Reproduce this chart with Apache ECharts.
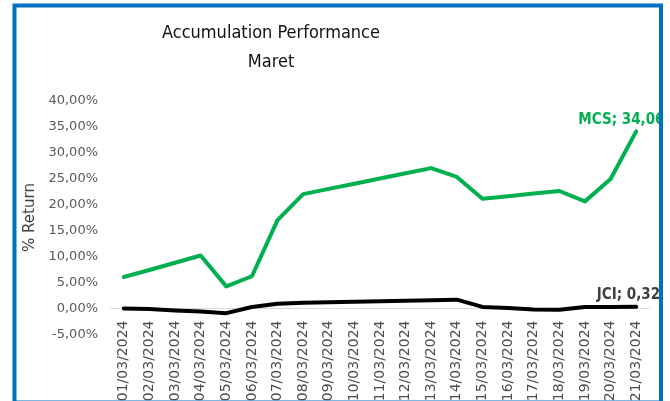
<!DOCTYPE html>
<html><head><meta charset="utf-8">
<script src="https://cdn.jsdelivr.net/npm/echarts@6/dist/echarts.min.js"></script>
<style>html,body{margin:0;padding:0;background:#fff}#c{width:670px;height:401px}</style>
</head><body><div id="c"></div>
<script>
const categories = ['01/03/2024','02/03/2024','03/03/2024','04/03/2024','05/03/2024','06/03/2024','07/03/2024','08/03/2024','09/03/2024','10/03/2024','11/03/2024','12/03/2024','13/03/2024','14/03/2024','15/03/2024','16/03/2024','17/03/2024','18/03/2024','19/03/2024','20/03/2024','21/03/2024'];
const mcs = [6.05, 7.4, 8.8, 10.2, 4.25, 6.2, 17.0, 22.0, 23.0, 24.0, 25.0, 26.0, 27.0, 25.3, 21.1, 21.6, 22.1, 22.6, 20.6, 24.9, 34.06];
const jci = [0.0, -0.1, -0.4, -0.6, -0.9, 0.3, 0.9, 1.1, 1.2, 1.3, 1.4, 1.5, 1.6, 1.7, 0.3, 0.1, -0.2, -0.25, 0.3, 0.3, 0.32];
const yTicks = { min: -5, max: 40, interval: 5 };
const seriesNames = ['MCS', 'JCI'];

const fmt = v => v.toFixed(2).replace('.', ',') + '%';
const FONT = '"DejaVu Sans", "Liberation Sans", sans-serif';
const FONTC = '"DejaVu Sans Condensed", "Liberation Sans Narrow", "Liberation Sans", sans-serif';

function withLastLabel(arr, name, color, offset) {
  return arr.map((v, i) => i === arr.length - 1 ? {
    value: v,
    label: { show: true, position: 'top', distance: 4, offset: offset, formatter: name + '; ' + fmt(v),
      color: color, fontWeight: 'bold', fontSize: 15, fontFamily: FONTC }
  } : v);
}

const chart = echarts.init(document.getElementById('c'), null, { renderer: 'canvas' });
chart.setOption({
  animation: false,
  title: {
    text: 'Accumulation Performance\nMaret',
    left: 266, top: 14, textAlign: 'center',
    textStyle: { fontSize: 18, fontWeight: 'normal', color: '#111111', fontFamily: FONTC, lineHeight: 29 }
  },
  grid: { left: 111, right: 21, top: 100.5, bottom: 66.5, outerBoundsMode: 'none', containLabel: false },
  xAxis: {
    type: 'category', data: categories, boundaryGap: true, position: 'bottom', offset: -26,
    axisLine: { onZero: false, lineStyle: { color: '#d9d9d9', width: 1 } },
    axisTick: { show: false },
    axisLabel: { rotate: 90, margin: 12, interval: 0, fontSize: 14, color: '#4d4d4d', fontFamily: FONT }
  },
  yAxis: {
    type: 'value', min: yTicks.min, max: yTicks.max, interval: yTicks.interval,
    name: '% Return', nameLocation: 'middle', nameGap: 68, nameRotate: 90,
    nameTextStyle: { fontSize: 15, color: '#404040', fontFamily: FONT },
    axisLine: { show: false }, axisTick: { show: false }, splitLine: { show: false },
    axisLabel: { formatter: fmt, margin: 13, fontSize: 13, color: '#595959', fontFamily: FONT }
  },
  series: [
    { name: seriesNames[0], type: 'line', data: withLastLabel(mcs, seriesNames[0], '#00b050', [-8, 0]),
      symbol: 'circle', symbolSize: 0, showSymbol: true, itemStyle: { color: '#00b050' },
      lineStyle: { color: '#00b050', width: 4, cap: 'round', join: 'round' }, z: 3 },
    { name: seriesNames[1], type: 'line', data: withLastLabel(jci, seriesNames[1], '#404040', [-1, 0]),
      symbol: 'circle', symbolSize: 0, showSymbol: true, itemStyle: { color: '#000000' },
      lineStyle: { color: '#000000', width: 4, cap: 'round', join: 'round' }, z: 2 }
  ],
  graphic: [
    { type: 'rect', shape: { x: 662, y: 0, width: 10, height: 401 }, style: { fill: '#ffffff' }, z: 100 },
    { type: 'rect', shape: { x: 0, y: 0, width: 13, height: 401 }, style: { fill: '#ffffff' }, z: 100 },
    { type: 'rect', shape: { x: 14.5, y: 5.5, width: 646.5, height: 397 },
      style: { fill: 'none', stroke: '#0070c0', lineWidth: 4 }, z: 101 }
  ]
});
</script></body></html>
